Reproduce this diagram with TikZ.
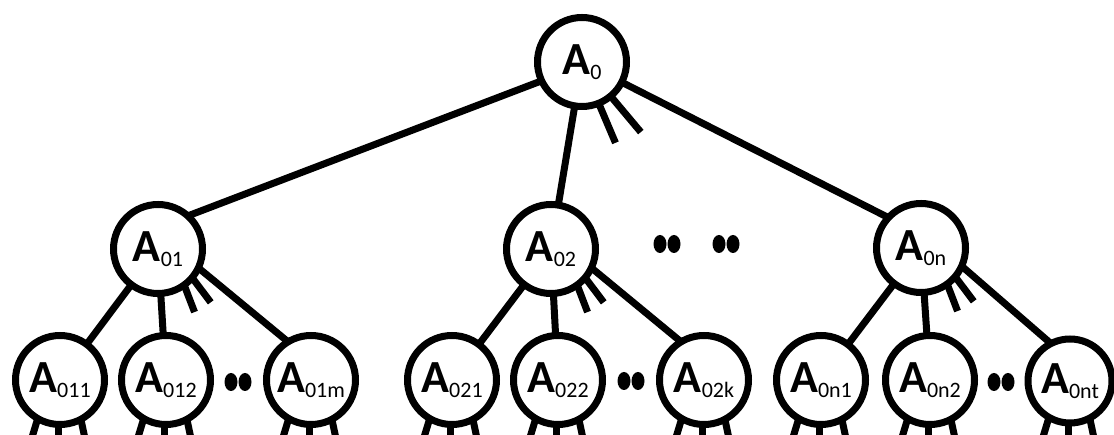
\documentclass[tikz,border=0pt]{standalone}
\usepackage{fontspec}
\setmainfont{Carlito}
\newcommand\albl[1]{{\fontsize{46}{46}\selectfont\bfseries A}\raisebox{-5pt}{\fontsize{22}{22}\selectfont #1}}
\begin{document}
\begin{tikzpicture}[x=1pt,y=1pt,
  tnode/.style={circle,draw,line width=7pt,minimum size=89pt,inner sep=0pt,outer sep=0pt,fill=white},
  link/.style={line width=7pt},
  stub/.style={line width=7pt}]
\clip (0,0) rectangle (1114,435);
\fill[white] (0,0) rectangle (1114,435);
% nodes
\node[tnode] (r)   at (582,373) {\albl{0}};
\node[tnode] (a1)  at (158,186) {\albl{01}};
\node[tnode] (a2)  at (551,186) {\albl{02}};
\node[tnode] (an)  at (921,187) {\albl{0n}};
\node[tnode] (b11) at (60,55)   {\albl{011}};
\node[tnode] (b12) at (166,55)  {\albl{012}};
\node[tnode] (b1m) at (311,55)  {\albl{01m}};
\node[tnode] (b21) at (452,55)  {\albl{021}};
\node[tnode] (b22) at (558,55)  {\albl{022}};
\node[tnode] (b2k) at (704,55)  {\albl{02k}};
\node[tnode] (bn1) at (821,55)  {\albl{0n1}};
\node[tnode] (bn2) at (930,55)  {\albl{0n2}};
\node[tnode,minimum size=84pt] (bnt) at (1070,54) {\albl{0nt}};
% connectors
\draw[link] (r.-155) -- (a1.48);
\draw[link] (r) -- (a2);
\draw[link] (r.-27) -- (an.137);
\draw[link] (a1) -- (b11);
\draw[link] (a1) -- (b12);
\draw[link] (a1.-25) -- (b1m.121);
\draw[link] (a2) -- (b21);
\draw[link] (a2) -- (b22);
\draw[link] (a2.-25) -- (b2k.121);
\draw[link] (an) -- (bn1);
\draw[link] (an) -- (bn2);
\draw[link] (an.-24) -- (bnt.117);
% stubs on root
\draw[stub] (r.-68) -- ++(-67:43);
\draw[stub] (r.-50) -- ++(-50:47);
% stubs on middle nodes
\foreach \n in {a1,a2,an}{
  \draw[stub] (\n.-54) -- ++(-69:29);
  \draw[stub] (\n.-40) -- ++(-53:31);
}
% stubs on bottom nodes
\foreach \n in {b11,b12,b1m,b21,b22,b2k,bn1,bn2,bnt}{
  \draw[stub] (\n.-120) -- ++(-107:25);
  \draw[stub] (\n.-92) -- ++(-90:25);
  \draw[stub] (\n.-62) -- ++(-78:25);
}
% dots
\foreach \cx/\cy in {667/191,726/191,238/53,631/54,1001/53}{
  \fill (\cx-7,\cy) ellipse (6.5 and 9);
  \fill (\cx+7,\cy) ellipse (6.5 and 9);
}
\end{tikzpicture}
\end{document}
